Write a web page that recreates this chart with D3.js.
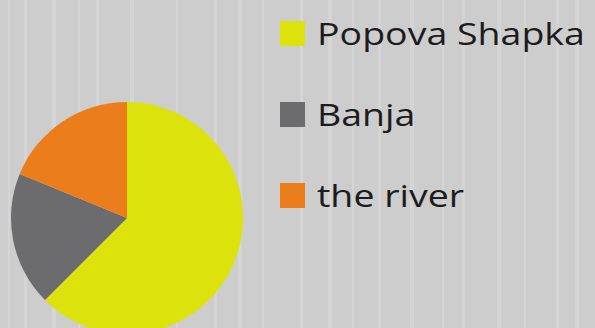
<!DOCTYPE html>
<html>
<head>
<meta charset="utf-8">
<script src="https://cdn.jsdelivr.net/npm/d3@7"></script>
<style>
  html, body { margin: 0; padding: 0; background: #cdcdcd; }
  svg { display: block; }
</style>
</head>
<body>
<script>
const width = 595;
const height = 328;

// data
const places = ['Popova Shapka', 'Banja', 'the river'];
const shares = [62.5, 18.7, 18.8];
const colors = ['#dbe20c', '#6c6b6e', '#ec7d1b'];

// faint vertical streaks in the scanned background
const streaks = [8, 24, 52, 78, 96, 130, 176, 214, 238, 262, 300, 328, 352, 378, 410, 442, 462, 497, 524, 556, 575];

const svg = d3.select('body').append('svg')
  .attr('width', width)
  .attr('height', height);

svg.append('rect')
  .attr('width', width).attr('height', height)
  .attr('fill', '#cdcdcd');

svg.selectAll('rect.streak')
  .data(streaks)
  .enter().append('rect')
    .attr('class', 'streak')
    .attr('x', d => d)
    .attr('y', 0)
    .attr('width', (d, i) => 2 + (i % 3))
    .attr('height', height)
    .attr('fill', '#dadada')
    .attr('opacity', 0.6);

const color = d3.scaleOrdinal().domain(places).range(colors);

const pie = d3.pie().sort(null).value(d => d.value);
const arc = d3.arc().innerRadius(0).outerRadius(116);

const pieData = places.map((p, i) => ({ name: p, value: shares[i] }));

const pieGroup = svg.append('g').attr('transform', 'translate(127, 218)');
pieGroup.selectAll('path')
  .data(pie(pieData))
  .enter().append('path')
    .attr('d', arc)
    .attr('fill', d => color(d.data.name));

// legend
const legend = svg.append('g').attr('transform', 'translate(280, 0)');
const row = d3.scaleLinear().domain([0, 2]).range([45, 207]);

legend.selectAll('rect')
  .data(places)
  .enter().append('rect')
    .attr('x', 0)
    .attr('y', (d, i) => row(i) - 24)
    .attr('width', 25)
    .attr('height', 25)
    .attr('fill', d => color(d));

const labels = legend.append('g').attr('transform', 'translate(37, 0)');
labels.selectAll('text')
  .data(places)
  .enter().append('text')
    .attr('x', 0)
    .attr('y', (d, i) => row(i))
    .attr('font-family', '"Open Sans", sans-serif')
    .attr('font-size', 31)
    .attr('font-weight', 500)
    .attr('fill', '#1c1c1c')
    .text(d => d);

// stretch labels so the longest one ends where it does in the picture
const longest = labels.select('text').node().getComputedTextLength();
const k = 268 / longest;
labels.attr('transform', `translate(37, 0) scale(${k}, 1)`);
</script>
</body>
</html>
